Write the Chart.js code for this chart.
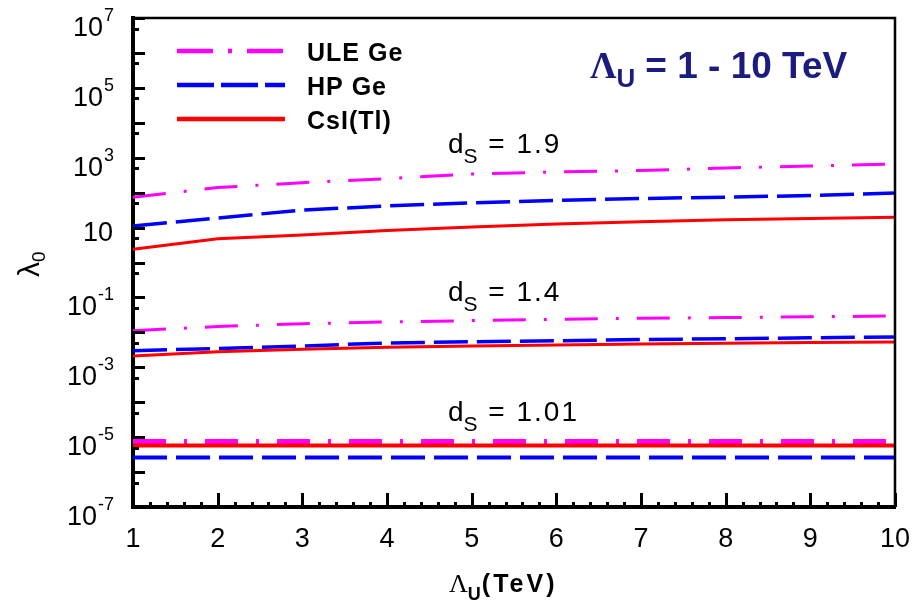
<!DOCTYPE html>
<html>
<head>
<meta charset="utf-8">
<script src="https://cdn.jsdelivr.net/npm/chart.js@4.4.1/dist/chart.umd.min.js"></script>
<style>
  html, body { margin: 0; padding: 0; background: #fff; }
</style>
</head>
<body>
<canvas id="lambdaChart" width="915" height="601"></canvas>
<script>
  // Lambda_U in TeV
  const lambdaU = [1, 2, 3, 4, 5, 6, 7, 8, 9, 10];

  // d_S = 1.9
  const uleGe19 = [74, 140, 193, 252, 342, 390, 430, 508, 580, 660];
  const hpGe19 = [11.1, 18.8, 31.8, 41.5, 51, 60, 68, 74, 83, 98];
  const csi19 = [2.39, 4.8, 6.1, 8.2, 10.3, 12.7, 14.6, 16.7, 18.2, 19.7];

  // d_S = 1.4
  const uleGe14 = [0.0112, 0.0147, 0.0176, 0.0198, 0.0217, 0.0237, 0.0253, 0.0265, 0.0279, 0.0294];
  const hpGe14 = [0.00299, 0.00345, 0.00407, 0.00497, 0.00537, 0.00574, 0.00621, 0.00655, 0.0070, 0.00737];
  const csi14 = [0.0021, 0.0028, 0.00328, 0.00374, 0.00407, 0.00435, 0.00465, 0.00487, 0.00509, 0.0053];

  // d_S = 1.01
  const uleGe101 = [7.3e-6, 7.3e-6, 7.3e-6, 7.3e-6, 7.3e-6, 7.3e-6, 7.3e-6, 7.3e-6, 7.3e-6, 7.3e-6];
  const hpGe101 = [2.6e-6, 2.6e-6, 2.6e-6, 2.6e-6, 2.6e-6, 2.6e-6, 2.6e-6, 2.6e-6, 2.6e-6, 2.6e-6];
  const csi101 = [5.8e-6, 5.8e-6, 5.8e-6, 5.8e-6, 5.8e-6, 5.8e-6, 5.8e-6, 5.8e-6, 5.8e-6, 5.8e-6];

  // axis ticks
  const xTickLabels = [1, 2, 3, 4, 5, 6, 7, 8, 9, 10];
  const yLabelExps = [7, 5, 3, 1, -1, -3, -5, -7];
  const yMinExp = -7, yMaxExp = 7;

  const legendLabels = ['ULE Ge', 'HP Ge', 'CsI(Tl)'];
  const dsLabels = ['1.9', '1.4', '1.01'];

  const MAGENTA = '#ff00ff', BLUE = '#0000ff', RED = '#ff0000';
  const ULE_DASH = [33, 18, 3, 18];
  const HP_DASH = [34, 9];
  const SANS = '"Liberation Sans", Arial, sans-serif';
  const SERIF = '"Liberation Serif", "Times New Roman", serif';

  Chart.defaults.font.family = SANS;

  function pts(vals) {
    return lambdaU.map((l, i) => ({ x: l, y: vals[i] }));
  }

  function line(vals, color, dash, width, order) {
    return {
      data: pts(vals),
      borderColor: color,
      borderWidth: width,
      borderDash: dash,
      borderCapStyle: 'butt',
      pointRadius: 0,
      tension: 0,
      fill: false,
      order: order
    };
  }

  // draws text with a lowered subscript, returns end x
  function subText(ctx, x, y, main, sub, mainFont, subFont, drop, gap) {
    ctx.font = mainFont;
    ctx.fillText(main, x, y);
    x += ctx.measureText(main).width + (gap || 0);
    ctx.font = subFont;
    ctx.fillText(sub, x, y + drop);
    return x + ctx.measureText(sub).width;
  }

  const decorations = {
    id: 'decorations',
    afterDraw(chart) {
      const { ctx, chartArea: a, scales: { x, y } } = chart;
      ctx.save();
      ctx.strokeStyle = '#000';
      ctx.fillStyle = '#000';

      // top and right frame
      ctx.lineWidth = 2.5;
      ctx.beginPath();
      ctx.moveTo(a.left, a.top);
      ctx.lineTo(a.right, a.top);
      ctx.lineTo(a.right, a.bottom);
      ctx.stroke();

      // inward tick marks
      ctx.lineWidth = 3;
      ctx.beginPath();
      y.ticks.forEach(t => {
        const py = Math.round(y.getPixelForValue(t.value)) + 0.5;
        ctx.moveTo(a.left, py);
        ctx.lineTo(a.left + (t.major ? 12 : 6), py);
      });
      x.ticks.forEach(t => {
        const px = Math.round(x.getPixelForValue(t.value)) + 0.5;
        ctx.moveTo(px, a.bottom);
        ctx.lineTo(px, a.bottom - (t.major ? 14 : 5));
      });
      ctx.stroke();

      // y tick labels 10^n
      ctx.textAlign = 'left';
      ctx.textBaseline = 'alphabetic';
      yLabelExps.forEach(e => {
        const py = y.getPixelForValue(Math.pow(10, e));
        ctx.font = '27px ' + SANS;
        const baseW = ctx.measureText('10').width;
        if (e === 1) {
          ctx.fillText('10', 113 - baseW, py + 13);
        } else {
          ctx.font = '18px ' + SANS;
          const expW = ctx.measureText(String(e)).width;
          const x0 = 114 - expW - baseW - 1;
          ctx.font = '27px ' + SANS;
          ctx.fillText('10', x0, py + 18);
          ctx.font = '18px ' + SANS;
          ctx.fillText(String(e), x0 + baseW + 1, py + 3);
        }
      });

      // legend
      const rows = [
        { color: MAGENTA, dash: [36, 15, 4, 15], y: 51 },
        { color: BLUE, dash: [37, 7], y: 85 },
        { color: RED, dash: [], y: 119 }
      ];
      rows.forEach((r, i) => {
        ctx.strokeStyle = r.color;
        ctx.lineWidth = 4.5;
        ctx.setLineDash(r.dash);
        ctx.beginPath();
        ctx.moveTo(177, r.y);
        ctx.lineTo(285, r.y);
        ctx.stroke();
        ctx.setLineDash([]);
        ctx.fillStyle = '#000';
        ctx.font = 'bold 25px ' + SANS;
        ctx.letterSpacing = '1px';
        ctx.fillText(legendLabels[i], 307, r.y + 10);
        ctx.letterSpacing = '0px';
      });

      // d_S annotations
      const dsPos = [[448, 153], [448, 301], [448, 421]];
      dsLabels.forEach((d, i) => {
        const [tx, ty] = dsPos[i];
        const end = subText(ctx, tx, ty, 'd', 'S', '28px ' + SANS, '21px ' + SANS, 10, 0);
        ctx.font = '28px ' + SANS;
        ctx.letterSpacing = '2px';
        ctx.fillText(' = ' + d, end + 1, ty);
        ctx.letterSpacing = '0px';
      });

      // Lambda_U = 1 - 10 TeV
      ctx.fillStyle = '#1c1c80';
      let ex = subText(ctx, 590, 78, '\u039B', 'U', 'bold 37px ' + SERIF, 'bold 26px ' + SANS, 9, 0);
      ctx.font = 'bold 37px ' + SANS;
      ctx.fillText('= 1 - 10 TeV', ex + 10, 78);

      // x axis title
      ctx.fillStyle = '#000';
      ex = subText(ctx, 449, 592, '\u039B', 'U', '26px ' + SERIF, 'bold 18px ' + SANS, 8, 0);
      ctx.font = 'bold 25px ' + SANS;
      ctx.letterSpacing = '3px';
      ctx.fillText('(TeV)', ex + 1, 592);
      ctx.letterSpacing = '0px';

      // y axis title, rotated
      ctx.translate(39, 277);
      ctx.rotate(-Math.PI / 2);
      subText(ctx, 0, 0, '\u03BB', '0', '30px ' + SANS, '19px ' + SANS, 6, 0);

      ctx.restore();
    }
  };

  const ctx = document.getElementById('lambdaChart').getContext('2d');
  new Chart(ctx, {
    type: 'line',
    data: {
      datasets: [
        line(uleGe19, MAGENTA, ULE_DASH, 3, 3),
        line(hpGe19, BLUE, HP_DASH, 3.5, 2),
        line(csi19, RED, [], 3, 1),
        line(uleGe14, MAGENTA, ULE_DASH, 3, 3),
        line(hpGe14, BLUE, HP_DASH, 3.5, 2),
        line(csi14, RED, [], 3, 1),
        line(uleGe101, MAGENTA, ULE_DASH, 6, 3),
        line(hpGe101, BLUE, HP_DASH, 4, 2),
        line(csi101, RED, [], 4, 1)
      ]
    },
    options: {
      responsive: false,
      animation: false,
      layout: { padding: { left: 0, right: 20, top: 18, bottom: 0 } },
      plugins: {
        legend: { display: false },
        tooltip: { enabled: false }
      },
      scales: {
        x: {
          type: 'linear',
          min: xTickLabels[0],
          max: xTickLabels[xTickLabels.length - 1],
          grid: { display: false },
          border: { display: true, color: '#000', width: 4 },
          ticks: {
            autoSkip: false,
            maxRotation: 0,
            padding: 8,
            color: '#000',
            font: { size: 27 },
            callback: (v) => (xTickLabels.includes(v) ? String(v) : '')
          },
          afterBuildTicks: (scale) => {
            const ticks = [];
            const first = xTickLabels[0], last = xTickLabels[xTickLabels.length - 1];
            for (let i = 0; i <= (last - first) * 5; i++) {
              const v = Math.round((first + i / 5) * 10) / 10;
              ticks.push({ value: v, major: i % 5 === 0 });
            }
            scale.ticks = ticks;
          },
          afterFit: (scale) => {
            scale.height = 94;
            scale.paddingRight = 0;
            scale.paddingLeft = 0;
          }
        },
        y: {
          type: 'logarithmic',
          min: Math.pow(10, yMinExp),
          max: Math.pow(10, yMaxExp),
          grid: { display: false },
          border: { display: true, color: '#000', width: 4 },
          ticks: { display: false },
          afterBuildTicks: (scale) => {
            const ticks = [];
            for (let e = yMinExp; e <= yMaxExp; e++) {
              ticks.push({ value: Math.pow(10, e), major: true });
              if (e < yMaxExp) ticks.push({ value: 5 * Math.pow(10, e), major: false });
            }
            scale.ticks = ticks;
          },
          afterFit: (scale) => { scale.width = 133; }
        }
      }
    },
    plugins: [decorations]
  });
</script>
</body>
</html>
